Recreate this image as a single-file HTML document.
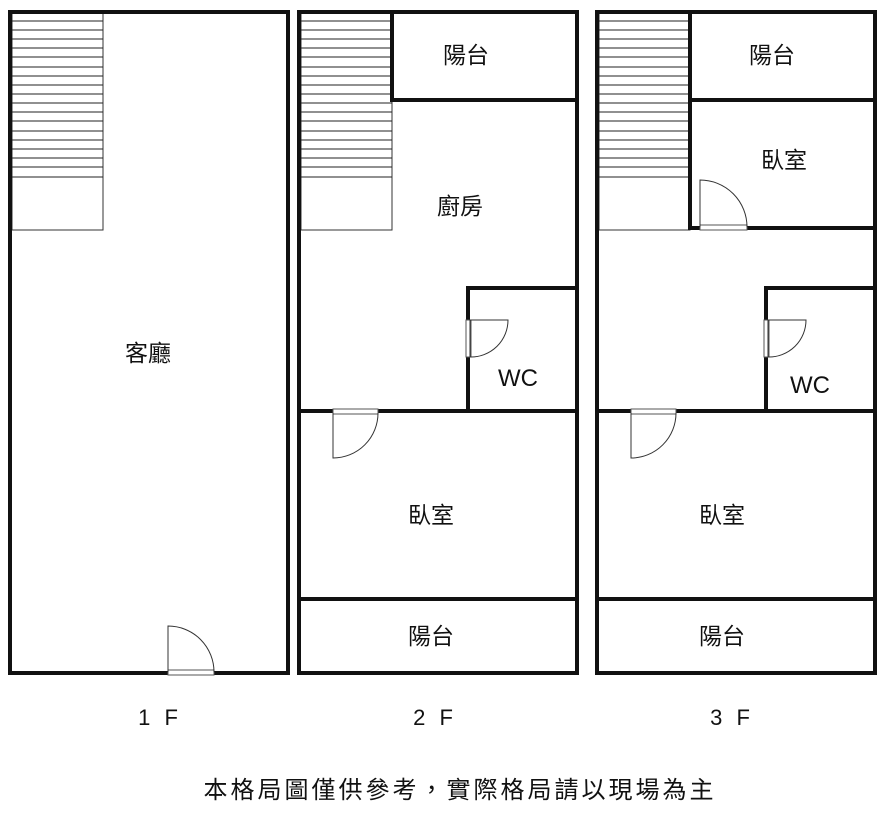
<!DOCTYPE html><html><head><style>body{margin:0;background:#fff}svg{display:block}text{font-family:"Liberation Sans","Noto Sans CJK TC",sans-serif;fill:#111}</style></head><body>
<svg width="889" height="817" viewBox="0 0 889 817">
<defs>
<g id="st">
<rect x="0" y="2" width="91" height="218" fill="#fff" stroke="#333" stroke-width="1"/>
<g stroke="#222" stroke-width="1">
<line x1="0" y1="11" x2="91" y2="11"/><line x1="0" y1="20" x2="91" y2="20"/><line x1="0" y1="29" x2="91" y2="29"/><line x1="0" y1="38" x2="91" y2="38"/><line x1="0" y1="47" x2="91" y2="47"/><line x1="0" y1="57" x2="91" y2="57"/><line x1="0" y1="66" x2="91" y2="66"/><line x1="0" y1="75" x2="91" y2="75"/><line x1="0" y1="84" x2="91" y2="84"/><line x1="0" y1="93" x2="91" y2="93"/><line x1="0" y1="102" x2="91" y2="102"/><line x1="0" y1="111" x2="91" y2="111"/><line x1="0" y1="121" x2="91" y2="121"/><line x1="0" y1="130" x2="91" y2="130"/><line x1="0" y1="139" x2="91" y2="139"/><line x1="0" y1="148" x2="91" y2="148"/><line x1="0" y1="157" x2="91" y2="157"/><line x1="0" y1="167" x2="91" y2="167"/>
</g></g>
</defs>
<use href="#st" x="12" y="10"/>
<use href="#st" x="301" y="10"/>
<use href="#st" x="599" y="10"/>
<g fill="none" stroke="#111" stroke-width="4">
<rect x="10" y="12" width="278" height="661"/>
<rect x="299" y="12" width="278" height="661"/>
<rect x="597" y="12" width="278" height="661"/>
<polyline points="392,12 392,100 577,100"/>
<polyline points="468,411 468,288 577,288"/>
<line x1="299" y1="411" x2="577" y2="411"/>
<line x1="299" y1="599" x2="577" y2="599"/>
<polyline points="690,12 690,100 875,100"/>
<line x1="690" y1="100" x2="690" y2="230"/>
<line x1="690" y1="228" x2="877" y2="228"/>
<polyline points="766,411 766,288 875,288"/>
<line x1="597" y1="411" x2="875" y2="411"/>
<line x1="597" y1="599" x2="875" y2="599"/>
</g>
<g fill="#fff" stroke="#555" stroke-width="1">
<rect x="168" y="670" width="46" height="5"/>
<rect x="333" y="409" width="45" height="5"/>
<rect x="631" y="409" width="45" height="5"/>
<rect x="466" y="320" width="5" height="37"/>
<rect x="764" y="320" width="5" height="37"/>
<rect x="700" y="225" width="47" height="5"/>
</g>
<g fill="none" stroke="#333" stroke-width="1">
<path d="M168,672 V626 A46,46 0 0 1 214,672"/>
<path d="M333,413 V458 A45,45 0 0 0 378,413"/>
<path d="M631,413 V458 A45,45 0 0 0 676,413"/>
<path d="M470,357 V320 H508 A37,37 0 0 1 470,357"/>
<path d="M768,357 V320 H806 A37,37 0 0 1 768,357"/>
<path d="M700,227 V180 A47,47 0 0 1 747,227"/>
</g>
<g font-size="23" text-anchor="middle">
<text x="148" y="361">客廳</text>
<text x="466" y="63">陽台</text>
<text x="460" y="214">廚房</text>
<text x="518" y="386" font-size="24">WC</text>
<text x="431" y="523">臥室</text>
<text x="431" y="644">陽台</text>
<text x="772" y="63">陽台</text>
<text x="784" y="168">臥室</text>
<text x="810" y="393" font-size="24">WC</text>
<text x="722" y="523">臥室</text>
<text x="722" y="644">陽台</text>
<text x="160" y="725" font-size="22" letter-spacing="4">1 F</text>
<text x="435" y="725" font-size="22" letter-spacing="4">2 F</text>
<text x="732" y="725" font-size="22" letter-spacing="4">3 F</text>
<text x="460" y="798" font-size="24" letter-spacing="3">本格局圖僅供參考，實際格局請以現場為主</text>
</g>
</svg>
</body></html>
